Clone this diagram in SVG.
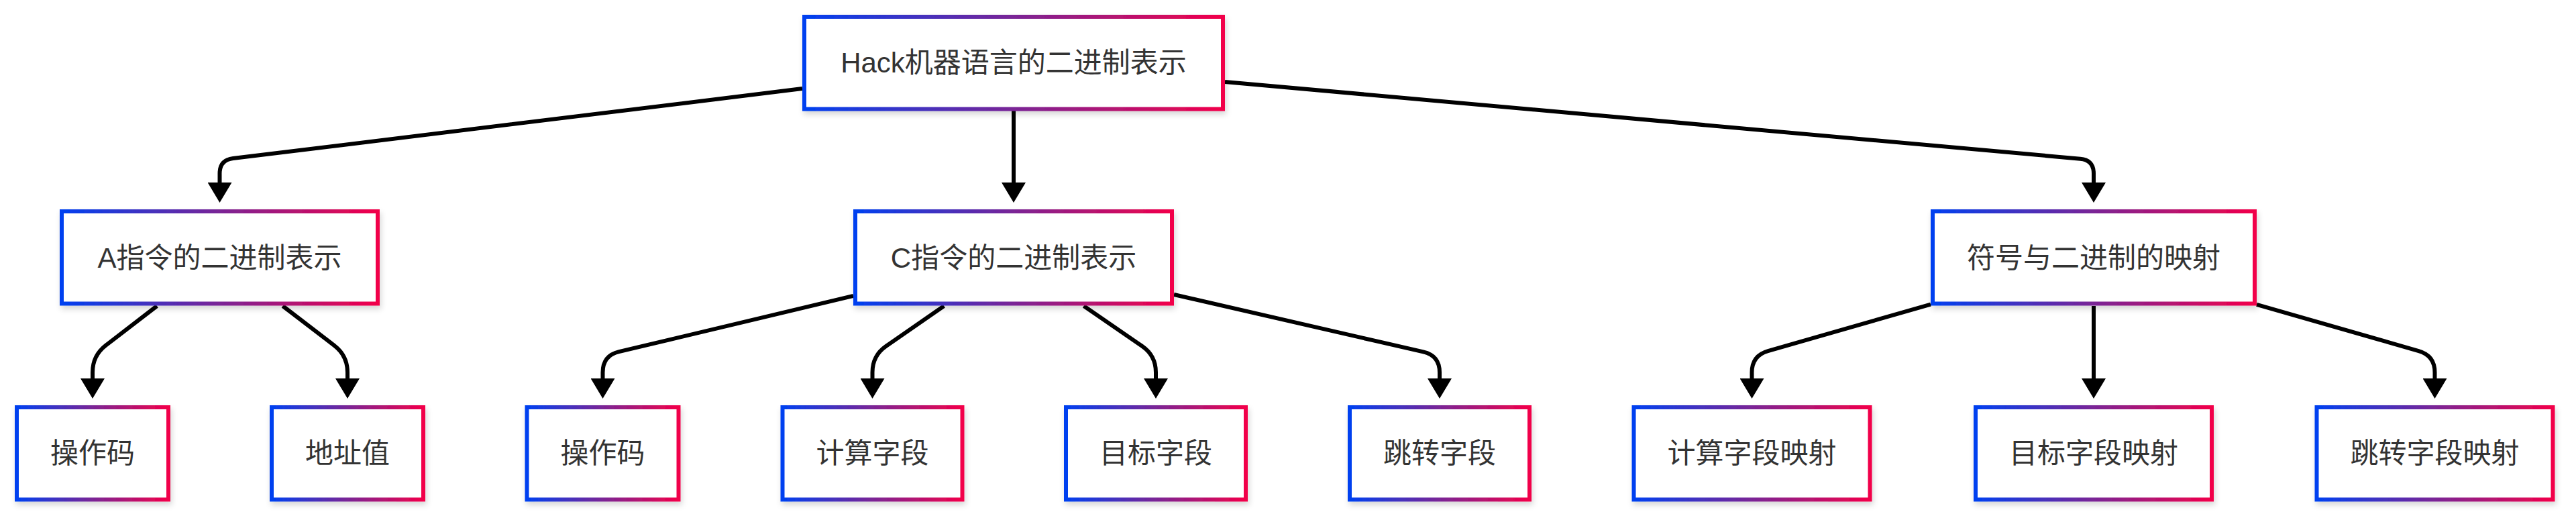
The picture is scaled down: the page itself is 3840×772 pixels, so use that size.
<svg xmlns="http://www.w3.org/2000/svg" width="3840" height="772" viewBox="0 0 3840 772">
<style>
.box{fill:#ffffff;stroke:url(#grad);stroke-width:6;filter:url(#shadow)}
.lbl{font-family:"Liberation Sans","Noto Sans CJK SC",sans-serif;font-size:42px;fill:#333333;text-anchor:middle;dominant-baseline:central}
.edge{fill:none;stroke:#000000;stroke-width:6;stroke-linejoin:round;marker-end:url(#arrow)}
</style>
<defs>
<linearGradient id="grad" x1="0" y1="0" x2="1" y2="0">
<stop offset="0" stop-color="#0040f0"/>
<stop offset="0.5" stop-color="#7a2596"/>
<stop offset="1" stop-color="#f2004a"/>
</linearGradient>
<filter id="shadow" x="-10%" y="-20%" width="120%" height="150%">
<feDropShadow dx="2" dy="5" stdDeviation="4" flood-color="#000000" flood-opacity="0.16"/>
</filter>
<marker id="arrow" markerUnits="userSpaceOnUse" viewBox="0 0 30 36" refX="0" refY="18" markerWidth="30" markerHeight="36" orient="auto">
<path d="M0,0 L30,18 L0,36 z" fill="#000000"/>
</marker>
</defs>
<rect width="3840" height="772" fill="#ffffff"/>
<g id="connectors">
<path class="edge" d="M1196,132.1 L347.4,236.1 Q327.5,238.5 327.5,258.5 L327.5,272"/>
<path class="edge" d="M1511,165 L1511,272"/>
<path class="edge" d="M1826,121.9 L3101.1,236.7 Q3121,238.5 3121,258.5 L3121,272"/>
<path class="edge" d="M234,456 L157.8,514.7 Q138,530 138,555 L138,564"/>
<path class="edge" d="M421.5,456 L498.2,514.8 Q518,530 518,555 L518,564"/>
<path class="edge" d="M1272,441 L922.8,524.2 Q898.5,530 898.5,555 L898.5,564"/>
<path class="edge" d="M1407.2,456 L1321,515.8 Q1300.5,530 1300.5,555 L1300.5,564"/>
<path class="edge" d="M1615.6,456 L1702.4,515.8 Q1723,530 1723,555 L1723,564"/>
<path class="edge" d="M1750,439 L2121.6,524.4 Q2146,530 2146,555 L2146,564"/>
<path class="edge" d="M2878,453.6 L2635.5,523.1 Q2611.5,530 2611.5,555 L2611.5,564"/>
<path class="edge" d="M3121,456 L3121,564"/>
<path class="edge" d="M3364,453.8 L3605.5,523.1 Q3629.5,530 3629.5,555 L3629.5,564"/>
</g>
<g id="root"><rect class="box" x="1199" y="25" width="624" height="137.5"/><text class="lbl" x="1511" y="93.5">Hack机器语言的二进制表示</text></g>
<g id="ainstr"><rect class="box" x="92" y="315" width="471" height="137.5"/><text class="lbl" x="327.5" y="384">A指令的二进制表示</text></g>
<g id="cinstr"><rect class="box" x="1275" y="315" width="472" height="137.5"/><text class="lbl" x="1511" y="384">C指令的二进制表示</text></g>
<g id="symmap"><rect class="box" x="2881" y="315" width="480" height="137.5"/><text class="lbl" x="3121" y="384">符号与二进制的映射</text></g>
<g id="a_opcode"><rect class="box" x="25" y="607" width="226" height="137.5"/><text class="lbl" x="138" y="675.5">操作码</text></g>
<g id="a_addr"><rect class="box" x="405" y="607" width="226" height="137.5"/><text class="lbl" x="518" y="675.5">地址值</text></g>
<g id="c_opcode"><rect class="box" x="785.5" y="607" width="226" height="137.5"/><text class="lbl" x="898.5" y="675.5">操作码</text></g>
<g id="c_comp"><rect class="box" x="1166.5" y="607" width="268" height="137.5"/><text class="lbl" x="1300.5" y="675.5">计算字段</text></g>
<g id="c_dest"><rect class="box" x="1589" y="607" width="268" height="137.5"/><text class="lbl" x="1723" y="675.5">目标字段</text></g>
<g id="c_jump"><rect class="box" x="2012" y="607" width="268" height="137.5"/><text class="lbl" x="2146" y="675.5">跳转字段</text></g>
<g id="m_comp"><rect class="box" x="2435.5" y="607" width="352" height="137.5"/><text class="lbl" x="2611.5" y="675.5">计算字段映射</text></g>
<g id="m_dest"><rect class="box" x="2945" y="607" width="352" height="137.5"/><text class="lbl" x="3121" y="675.5">目标字段映射</text></g>
<g id="m_jump"><rect class="box" x="3453.5" y="607" width="352" height="137.5"/><text class="lbl" x="3629.5" y="675.5">跳转字段映射</text></g>
</svg>
